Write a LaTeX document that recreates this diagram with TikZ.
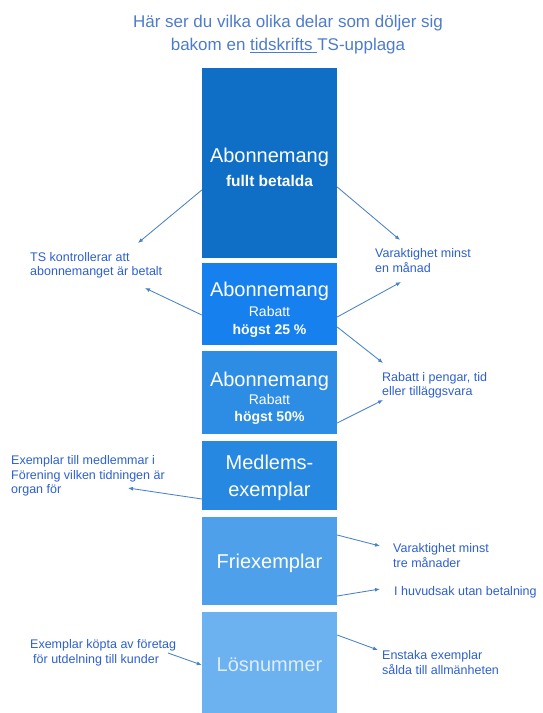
\documentclass[tikz,border=0pt]{standalone}
\usepackage{fontspec}
\setmainfont{Liberation Sans}
\usetikzlibrary{arrows.meta}
\definecolor{partA}{RGB}{15,111,198}
\definecolor{partB}{RGB}{22,128,238}
\definecolor{partC}{RGB}{45,140,228}
\definecolor{partD}{RGB}{38,136,224}
\definecolor{partE}{RGB}{78,160,234}
\definecolor{partF}{RGB}{108,178,240}
\definecolor{lightcap}{RGB}{222,237,252}
\definecolor{headblue}{RGB}{78,124,204}
\definecolor{noteblue}{RGB}{45,95,205}
\definecolor{arrowblue}{RGB}{72,130,196}

\begin{document}
\begin{tikzpicture} [x = 1pt, y = -1pt,
  part/.style = {minimum width = 135pt, inner sep = 0pt},
  caption/.style = {text = white, align = center, inner sep = 0pt, font = \fontsize{20}{18}\selectfont},
  note/.style = {anchor = west, align = left, inner sep = 0pt, text = noteblue, font = \fontsize{12.5}{14.5}\selectfont},
  pointer/.style = {draw = arrowblue, line width = 0.85pt, -{Latex[length = 5pt, width = 4pt]}}]
\useasboundingbox (0, 0) rectangle (542, 713);
\node[align = center, text = headblue, font = \fontsize{17}{23}\selectfont, inner sep = 0pt] (heading) at (288, 35) {Här ser du vilka olika delar som döljer sig\\bakom en \underline{tidskrifts\ }TS-upplaga};
\node[part, fill = partA, minimum height = 190pt] (fullBox) at (269.5, 163) {};
\node[part, fill = partB, minimum height = 82pt] (rab25Box) at (269.5, 304) {};
\node[part, fill = partC, minimum height = 83pt] (rab50Box) at (269.5, 392.5) {};
\node[part, fill = partD, minimum height = 69pt] (memberBox) at (269.5, 475.5) {};
\node[part, fill = partE, minimum height = 88pt] (freeBox) at (269.5, 561) {};
\node[part, fill = partF, minimum height = 101pt] (singleBox) at (269.5, 662.5) {};
\node[caption] (fullText) at (269.5, 167) {Abonnemang\\[6pt]{\fontsize{15.5}{18}\selectfont\bfseries fullt betalda}};
\node[caption] (rab25Text) at (269.5, 310) {Abonnemang\\[2pt]{\fontsize{14}{18}\selectfont Rabatt}\\{\fontsize{14}{18}\selectfont\bfseries högst 25 \%}};
\node[caption] (rab50Text) at (269.5, 398.5) {Abonnemang\\[-0.5pt]{\fontsize{14}{18}\selectfont Rabatt}\\[-0.5pt]{\fontsize{14}{18}\selectfont\bfseries högst 50\%}};
\node[caption] (memberText) at (269.5, 478.3) {Medlems-\\[9pt]exemplar};
\node[caption] (freeText) at (269.5, 563.8) {Friexemplar};
\node[caption, text = lightcap] (singleText) at (269.5, 664.7) {Lösnummer};
\node[note] (paidNote) at (30, 265.5) {TS kontrollerar att\\abonnemanget är betalt};
\node[note] (monthNote) at (375, 260.5) {Varaktighet minst\\en månad};
\node[note] (moneyNote) at (382, 385.5) {Rabatt i pengar, tid\\eller tilläggsvara};
\node[note] (memberNote) at (11, 476) {Exemplar till medlemmar i\\Förening vilken tidningen är\\organ för};
\node[note] (threeNote) at (393, 555.5) {Varaktighet minst\\tre månader};
\node[note] (freeNote) at (394, 592) {I huvudsak utan betalning};
\node[note] (firmNote) at (30, 653) {Exemplar köpta av företag\\\hspace*{3pt}för utdelning till kunder};
\node[note] (singleNote) at (382, 662.5) {Enstaka exemplar\\sålda till allmänheten};
\coordinate (tipPaid) at (138, 243);
\coordinate (tipMonth) at (400, 240);
\coordinate (tipPaidB) at (145, 288);
\coordinate (tipMonthB) at (401, 282);
\coordinate (tipMoney) at (383, 363);
\coordinate (tipMoneyB) at (383, 400);
\coordinate (tipMember) at (128, 488);
\coordinate (tipThree) at (380, 546);
\coordinate (tipFree) at (380, 589);
\coordinate (fromFirm) at (168, 653);
\coordinate (tipSingle) at (378, 650);
\draw[pointer] ([yshift = -27pt]fullBox.west) -- (tipPaid);
\draw[pointer] ([yshift = -24pt]fullBox.east) -- (tipMonth);
\draw[pointer] ([yshift = -11pt]rab25Box.west) -- (tipPaidB);
\draw[pointer] ([yshift = -13pt]rab25Box.east) -- (tipMonthB);
\draw[pointer] ([yshift = -23pt]rab25Box.east) -- (tipMoney);
\draw[pointer] ([yshift = -30.5pt]rab50Box.east) -- (tipMoneyB);
\draw[pointer] ([yshift = -23.5pt]memberBox.west) -- (tipMember);
\draw[pointer] ([yshift = 26pt]freeBox.east) -- (tipThree);
\draw[pointer] ([yshift = -35pt]freeBox.east) -- (tipFree);
\draw[pointer] (fromFirm) -- ([yshift = -2.5pt]singleBox.west);
\draw[pointer] ([yshift = 27.5pt]singleBox.east) -- (tipSingle);
\end{tikzpicture}
\end{document}
